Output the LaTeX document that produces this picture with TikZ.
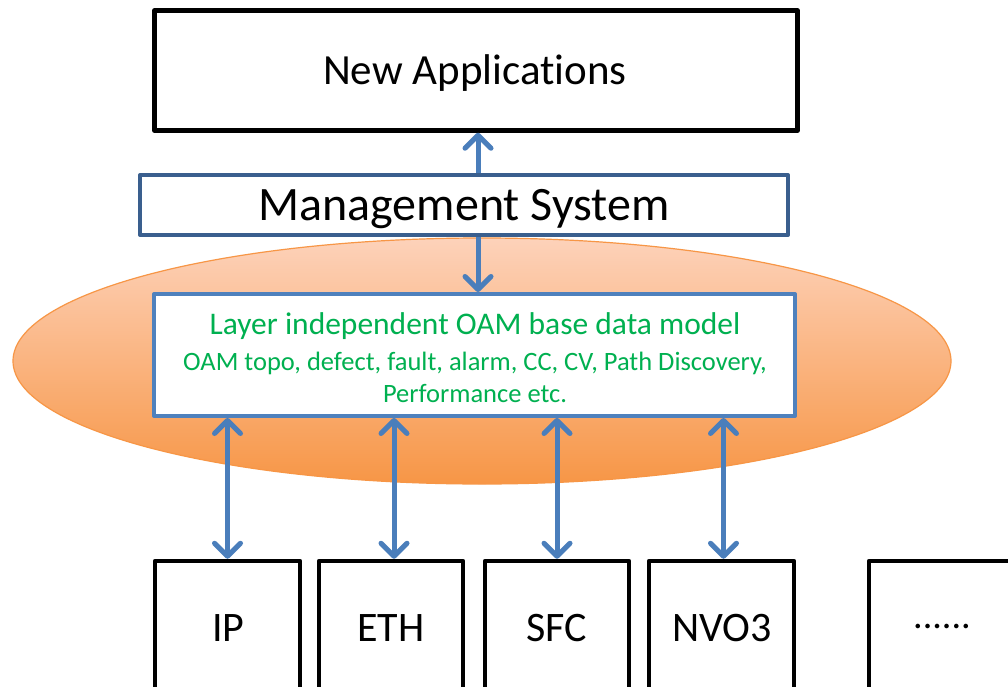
\documentclass[tikz,border=0pt]{standalone}
\usepackage{fontspec}
\setmainfont{Carlito}[Ligatures={NoCommon}]
\usetikzlibrary{arrows.meta,shapes.geometric}
\definecolor{arrblue}{HTML}{4A7EBB}
\definecolor{oamblue}{HTML}{4F81BD}
\definecolor{mgmtblue}{HTML}{3A5F8E}
\definecolor{oamgreen}{HTML}{00B050}
\definecolor{halotop}{HTML}{FDD2BA}
\definecolor{halobot}{HTML}{F79646}
\definecolor{haloline}{HTML}{F79646}
\tikzset{
  blackbox/.style={draw=black, line width=4.5pt, fill=white, inner sep=0pt, line join=round},
  bluebox/.style={draw=#1, line width=4pt, fill=white, inner sep=0pt, line join=round},
  boxlabel/.style={font=\fontsize{42}{46}\selectfont, inner sep=0pt},
  link/.style={draw=arrblue, line width=5pt,
    {Straight Barb[length=13pt,width=26pt,round]}-{Straight Barb[length=13pt,width=26pt,round]}},
  uplink/.style={draw=arrblue, line width=5pt, -{Straight Barb[length=13pt,width=26pt,round]}},
}
\begin{document}
\begin{tikzpicture}[x=1pt,y=-1pt]
\useasboundingbox (0,0) rectangle (1008,687);
\begin{scope}
\clip (0,0) rectangle (1008,687);
\fill[white] (0,0) rectangle (1008,687);
% halo ellipse
\node[ellipse, draw=haloline, line width=1.2pt, top color=halotop, bottom color=halobot,
      minimum width=938pt, minimum height=246pt, inner sep=0pt] (halo) at (482,361) {};
% top box
\node[blackbox, minimum width=643pt, minimum height=120pt] (apps) at (476,70.5) {};
\node[font=\fontsize{43}{46}\selectfont, inner sep=0pt] (appslab) at (475,73) {New Applicat\kern0pt ions};
% management
\node[bluebox=mgmtblue, minimum width=648pt, minimum height=60pt] (mgmt) at (464,205) {};
\node[font=\fontsize{48}{52}\selectfont, inner sep=0pt] (mgmtlab) at (464,209) {Management System};
% OAM model
\node[bluebox=oamblue, minimum width=641pt, minimum height=122pt] (oam) at (474.5,355) {};
\node[text=oamgreen, inner sep=0pt, font=\fontsize{31.5}{34}\selectfont] (oamtitle) at (475,326)
  {Layer independent OAM base data model};
\node[text=oamgreen, align=center, inner sep=0pt, font=\fontsize{26.5}{32}\selectfont] (oamsub) at (475,377)
  {OAM topo, defect, fault, alarm, CC, CV, Path Discovery,\\ Performance etc.};
% bottom boxes
\node[blackbox, minimum width=145pt, minimum height=150pt] (ip)   at (227.5,636) {};
\node[blackbox, minimum width=144pt, minimum height=150pt] (eth)  at (391,636) {};
\node[blackbox, minimum width=144pt, minimum height=150pt] (sfc)  at (557,636) {};
\node[blackbox, minimum width=145pt, minimum height=150pt] (nvo)  at (721.5,636) {};
\node[blackbox, minimum width=146pt, minimum height=150pt] (more) at (942,636) {};
\node[boxlabel] (iplab)   at (228.5,628) {IP};
\node[boxlabel] (ethlab)  at (391,628) {ETH};
\node[boxlabel] (sfclab)  at (557,628) {SFC};
\node[boxlabel] (nvolab)  at (722,628) {NVO3};
\node[font=\fontsize{38}{42}\selectfont] (morelab) at (942,626) {......};
% connectors
\draw[uplink] (mgmt.north -| 478,0) -- (apps.south -| 478,0);
\draw[uplink] (mgmt.south -| 478,0) -- (oam.north -| 478,0);
\draw[link] (ip.north) -- (ip.north |- oam.south);
\draw[link] ([xshift=3pt]eth.north) -- ([xshift=3pt]eth.north |- oam.south);
\draw[link] (sfc.north) -- (sfc.north |- oam.south);
\draw[link] ([xshift=2pt]nvo.north) -- ([xshift=2pt]nvo.north |- oam.south);
\end{scope}
\end{tikzpicture}
\end{document}
